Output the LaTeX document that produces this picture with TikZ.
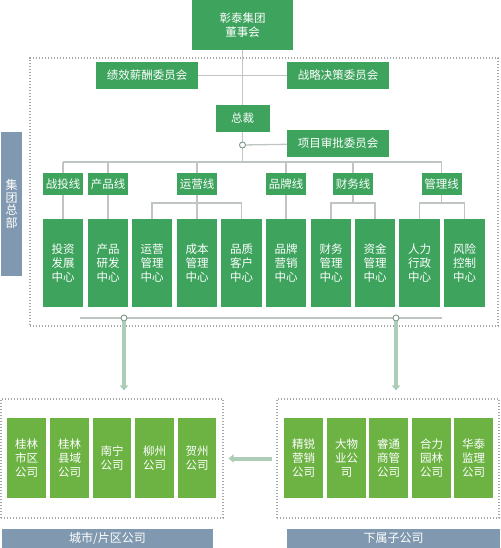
\documentclass[tikz,border=0pt]{standalone}
\usepackage{fontspec}
\newfontfamily\cjk{Noto Sans CJK SC}
\usetikzlibrary{arrows.meta}

\definecolor{deepgreen}{HTML}{3DA35D}
\definecolor{leafgreen}{HTML}{6CB344}
\definecolor{slate}{HTML}{8099B0}
\definecolor{wiregray}{HTML}{BFC6C1}
\definecolor{flowgreen}{HTML}{AECDB6}
\definecolor{jointgreen}{HTML}{7A9A85}

\tikzset{
  unit/.style={fill=deepgreen, text=white, inner sep=0pt, align=center,
    font=\cjk\fontsize{11.5}{14}\selectfont},
  wide/.style={minimum width=102, minimum height=27},
  company/.style={fill=leafgreen, text=white, inner sep=0pt, align=center,
    minimum width=38.5, minimum height=80, font=\cjk\fontsize{11.5}{14}\selectfont},
  tag/.style={fill=slate, text=white, inner sep=0pt, align=center,
    font=\cjk\fontsize{12}{12.5}\selectfont},
  frame/.style={draw=gray!70, line width=1.2pt, dash pattern=on 1.2pt off 1.8pt, inner sep=0pt},
  wire/.style={draw=wiregray, line width=1.3pt},
  joint/.style={circle, draw=jointgreen, fill=white, line width=0.9pt, minimum size=6, inner sep=0pt},
  flow/.style={draw=flowgreen, line width=4pt, -{Triangle[width=8.5pt,length=5pt]}}
}

\begin{document}
\begin{tikzpicture}[x=1pt,y=-1pt]
\useasboundingbox (0,0) rectangle (500,548);

% dotted frames
\node[frame, minimum width=468, minimum height=268] (hq) at (264,192) {};
\node[frame, minimum width=222, minimum height=119] (cityframe) at (112,458.5) {};
\node[frame, minimum width=222, minimum height=119] (subframe) at (388,458.5) {};

% board and committees
\node[unit, minimum width=101, minimum height=50] (board) at (242.5,25) {彰泰集团\\董事会};
\node[unit, wide] (pay) at (147,75.5) {绩效薪酬委员会};
\node[unit, wide] (strategy) at (338,75.5) {战略决策委员会};
\node[unit, minimum width=54, minimum height=27] (ceo) at (242.5,118.5) {总裁};
\node[unit, wide] (project) at (338,143.5) {项目审批委员会};

\coordinate (trunk) at (242.5,162);
\coordinate (fork) at (0,203);

\draw[wire] (board) -- (ceo);
\draw[wire] (pay) -- (strategy);
\draw[wire] (ceo) -- (trunk);
\node[joint] (pj) at (242.5,145) {};
\draw[wire] (pj) -- (project);

% business lines
\foreach \name/\x/\txt in {lz/63/战投线, lp/108/产品线, ly/197/运营线,
    lb/286/品牌线, lc/353/财务线, lg/441.5/管理线}
  \node[unit, minimum width=40, minimum height=22] (\name) at (\x,184) {\txt};

\draw[wire] (lz.north |- trunk) -- (lg.north |- trunk);
\foreach \name in {lz,lp,ly,lb,lc,lg}
  \draw[wire] (\name.north) -- (\name.north |- trunk);

% centres
\foreach \name/\x/\txt in {c1/63/投资\\发展\\中心, c2/108/产品\\研发\\中心,
    c3/152/运营\\管理\\中心, c4/197/成本\\管理\\中心, c5/241.5/品质\\客户\\中心,
    c6/286/品牌\\营销\\中心, c7/331/财务\\管理\\中心, c8/375/资金\\管理\\中心,
    c9/419.5/人力\\行政\\中心, c10/464.5/风险\\控制\\中心}
  \node[unit, minimum width=40.5, minimum height=88] (\name) at (\x,263) {\txt};

\draw[wire] (lz) -- (c1);
\draw[wire] (lp) -- (c2);
\draw[wire] (ly) -- (c4);
\draw[wire] (lb) -- (c6);
\draw[wire] (c3.north) |- (c5.north |- fork) -- (c5.north);
\draw[wire] (lc) -- (lc |- fork);
\draw[wire] (c7.north) |- (c8.north |- fork) -- (c8.north);
\draw[wire] (lg) -- (lg |- fork);
\draw[wire] (c9.north) |- (c10.north |- fork) -- (c10.north);

% base line and arrows
\coordinate (baseL) at (80,318);
\coordinate (baseR) at (442,318);
\draw[wire] (baseL) -- (baseR);
\node[joint] (jl) at (124,318) {};
\node[joint] (jr) at (396,318) {};
\draw[flow, shorten >=8pt] (jl) -- (jl |- cityframe.north);
\draw[flow, shorten >=8pt] (jr) -- (jr |- subframe.north);
\draw[flow, shorten <=4pt, shorten >=5pt] (subframe.west) -- (cityframe.east);

% companies
\foreach \name/\x/\txt in {k1/26.5/桂林\\市区\\公司, k2/69.5/桂林\\县域\\公司,
    k3/112/南宁\\公司, k4/154.5/柳州\\公司, k5/197/贺州\\公司}
  \node[company] (\name) at (\x,458) {\txt};
\foreach \name/\x/\txt in {s1/303.5/精锐\\营销\\公司, s2/346.5/大物\\业公\\司,
    s3/388.5/睿通\\商管\\公司, s4/431.5/合力\\园林\\公司, s5/473.5/华泰\\监理\\公司}
  \node[company] (\name) at (\x,458) {\txt};

% tags
\node[tag, minimum width=21, minimum height=144] (hqtag) at (11.5,204) {集\\团\\总\\部};
\node[tag, minimum width=211, minimum height=20] (citytag) at (107.5,538.5) {城市/片区公司};
\node[tag, minimum width=213, minimum height=20] (subtag) at (393.5,538.5) {下属子公司};

\end{tikzpicture}
\end{document}
